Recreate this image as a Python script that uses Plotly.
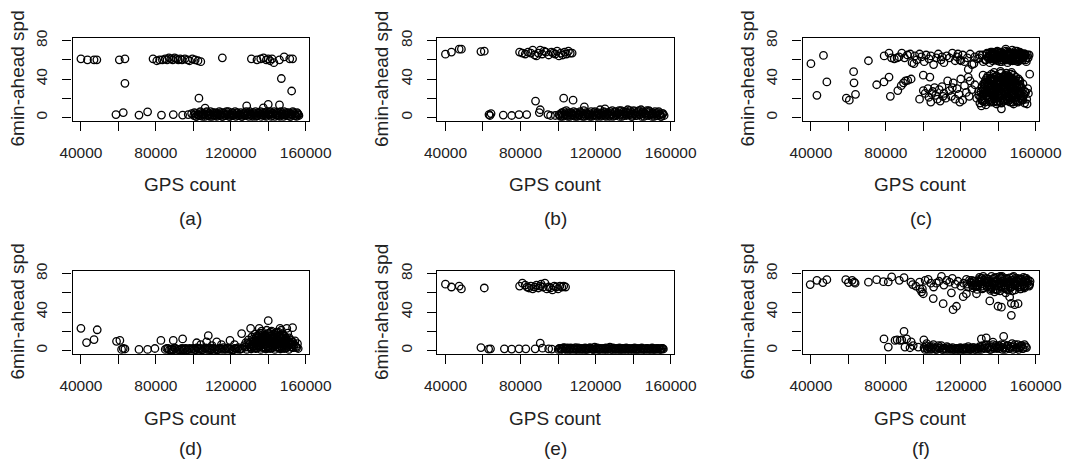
import plotly.graph_objects as go

# ---------------- data (GPS count in thousands, speed in km/h) ----------------
# panel (a)
a_top_x = [40, 43.5, 47, 48.5, 60.5, 63.5, 78.5, 80.5, 82, 83.5, 85, 86, 87, 88, 89, 90, 91, 92, 93, 94,
           95.5, 97, 98, 99.5, 101, 102.5, 104, 115.5, 131, 134, 136, 137.5, 139, 140, 141, 142, 143, 146,
           148.5, 151.5, 153]
a_top_y = [61, 60, 60, 60, 60, 61, 61, 59, 60, 60, 61, 60, 62, 61, 60, 62, 61, 60, 61, 60,
           61, 60, 59, 61, 60, 59, 58, 62, 61, 60, 61, 62, 60, 61, 59, 61, 57, 60,
           63, 61, 61]
a_mid_x = [63.5, 103, 147, 152.5, 106.3, 128.5, 140, 146, 137.4, 58.7, 62.6, 71, 75.6, 83, 89.3, 94.3, 97.3, 99.1]
a_mid_y = [35.5, 20, 40.5, 27.5, 9.6, 12, 13.5, 13, 10, 3, 5, 2.4, 5.8, 2.4, 3, 2.4, 3, 4]
a_band_x = [100.2, 101.1, 101.7, 102.6, 103.4, 104.1, 104.9, 105.6, 106.6, 107.2, 108.1, 108.8, 109.5, 110.4,
            111.1, 111.9, 112.5, 113.4, 114.2, 114.8, 115.7, 116.4, 117.2, 118.1, 118.7, 119.6, 120.3, 121.2,
            121.8, 122.7, 123.5, 124.1, 125.0, 125.8, 126.5, 127.3, 128.2, 128.9, 129.6, 130.5, 131.2, 132.0,
            132.8, 133.5, 134.3, 135.1, 135.9, 136.6, 137.4, 138.2, 138.9, 139.7, 140.5, 141.2, 142.0, 142.7,
            143.6, 144.3, 145.0, 145.9, 146.6, 147.3, 148.2, 148.9, 149.6, 150.5, 151.2, 152.0, 152.8, 153.5,
            154.3, 155.1, 155.8, 156.4]
a_band_y = [2, 4, 1, 3, 5, 2, 1, 4, 3, 6, 2, 1, 3, 5, 2, 4, 1, 3, 2, 5, 1, 4, 2, 3, 6, 1, 2, 4, 3, 1, 5, 2,
            3, 1, 4, 2, 6, 3, 1, 4, 2, 5, 3, 1, 2, 4, 6, 3, 2, 5, 1, 4, 3, 6, 2, 4, 1, 5, 3, 2, 6, 4, 1, 3,
            5, 2, 4, 1, 3, 5, 2, 1, 4, 2]
a_band2_x = [100.6, 101.4, 102.3, 103.0, 103.8, 104.6, 105.3, 106.2, 106.9, 107.7, 108.5, 109.2, 110.1, 110.8,
             111.6, 112.3, 113.1, 113.9, 114.6, 115.4, 116.1, 116.9, 117.7, 118.4, 119.2, 120.0, 120.7, 121.5,
             122.3, 123.1, 123.8, 124.6, 125.4, 126.1, 126.9, 127.7, 128.5, 129.3, 130.1, 130.9, 131.6, 132.4,
             133.2, 133.9, 134.7, 135.5, 136.3, 137.0, 137.8, 138.6, 139.3, 140.1, 140.9, 141.6, 142.4, 143.2,
             143.9, 144.7, 145.5, 146.2, 147.0, 147.7, 148.5, 149.3, 150.1, 150.8, 151.6, 152.4, 153.1, 153.9,
             154.7, 155.4, 156.1]
a_band2_y = [5, 1, 3, 2, 6, 4, 3, 1, 5, 2, 4, 6, 1, 3, 5, 2, 4, 6, 3, 1, 5, 2, 6, 4, 1, 3, 5, 2, 6, 4, 2, 3,
             5, 1, 3, 5, 2, 4, 6, 3, 1, 4, 6, 2, 5, 3, 1, 5, 4, 2, 6, 3, 5, 1, 4, 6, 3, 2, 5, 1, 4, 3, 6, 2,
             4, 5, 1, 3, 6, 4, 2, 5, 3]

# panel (b)
b_top_x = [40, 43.2, 47.3, 48.5, 58.9, 60.7, 79.5, 81, 82.5, 84, 85.5, 86.5, 87.5, 88.5, 89.5, 90.5, 91.5,
           92.5, 93.5, 95, 96.5, 97.5, 98.5, 99.5, 100.5, 101.5, 102.5, 103.5, 104.5, 105.5, 106.5, 107.5]
b_top_y = [65.8, 68, 71, 71, 68.5, 69, 68, 67, 66, 68, 67, 70, 65, 64, 67, 70, 66,
           69, 68, 65, 68, 67, 66, 69, 64, 67, 65, 68, 66, 69, 67, 67]
b_mid_x = [88, 103, 108, 90.5, 90, 114, 125, 63.2, 63.7, 64.3, 70.8, 75.3, 79.2, 83.3, 94.6, 96, 98.5]
b_mid_y = [17, 20, 18, 8, 5, 11, 9, 3, 2, 4, 2.4, 2, 3, 3, 3, 2, 2]
b_band_x = [100.5, 101.3, 102.0, 102.9, 103.6, 104.4, 105.2, 105.9, 106.8, 107.5, 108.3, 109.1, 109.8, 110.7,
            111.4, 112.2, 113.0, 113.7, 114.6, 115.3, 116.1, 116.9, 117.6, 118.5, 119.2, 120.0, 120.8, 121.5,
            122.4, 123.1, 123.9, 124.7, 125.4, 126.3, 127.0, 127.8, 128.6, 129.3, 130.2, 130.9, 131.7, 132.5,
            133.2, 134.1, 134.8, 135.6, 136.4, 137.1, 138.0, 138.7, 139.5, 140.3, 141.0, 141.9, 142.6, 143.4,
            144.2, 144.9, 145.8, 146.5, 147.3, 148.1, 148.8, 149.7, 150.4, 151.2, 152.0, 152.7, 153.6, 154.3,
            155.1, 155.9, 156.5]
b_band_y = [3, 1, 5, 2, 4, 7, 1, 3, 5, 2, 6, 1, 4, 2, 3, 5, 1, 7, 2, 4, 3, 1, 6, 2, 5, 3, 1, 4, 8, 2, 3, 5,
            1, 4, 2, 6, 3, 1, 5, 2, 4, 7, 3, 1, 6, 4, 2, 8, 5, 3, 1, 7, 4, 2, 6, 3, 8, 5, 1, 4, 7, 2, 6, 3,
            5, 1, 4, 2, 6, 3, 1, 4, 2]
b_band2_x = [100.9, 101.7, 102.5, 103.3, 104.0, 104.8, 105.6, 106.4, 107.1, 107.9, 108.7, 109.5, 110.3, 111.0,
             111.8, 112.6, 113.4, 114.1, 114.9, 115.7, 116.5, 117.2, 118.0, 118.8, 119.6, 120.4, 121.1, 121.9,
             122.7, 123.5, 124.3, 125.0, 125.8, 126.6, 127.4, 128.2, 128.9, 129.7, 130.5, 131.3, 132.1, 132.8,
             133.6, 134.4, 135.2, 136.0, 136.7, 137.5, 138.3, 139.1, 139.9, 140.6, 141.4, 142.2, 143.0, 143.8,
             144.5, 145.3, 146.1, 146.9, 147.6, 148.4, 149.2, 150.0, 150.8, 151.6, 152.3, 153.1, 153.9, 154.7,
             155.5]
b_band2_y = [2, 4, 1, 6, 3, 2, 5, 1, 4, 3, 2, 5, 1, 3, 6, 2, 4, 1, 5, 3, 2, 4, 1, 3, 6, 2, 5, 3, 1, 4, 6, 2,
             3, 5, 1, 4, 7, 2, 6, 3, 5, 1, 7, 4, 2, 6, 5, 3, 7, 1, 4, 6, 2, 5, 7, 3, 1, 6, 4, 2, 5, 7, 3, 1,
             4, 6, 2, 5, 3, 1, 4]

# panel (c)
c_sparse_x = [40, 43.2, 46.7, 48.5, 58.9, 60.5, 62.8, 63, 63.8, 70.7, 75.1, 79, 79.1, 81.7, 81.7, 82.4, 86.4,
              88.2, 89.4, 90.5, 91.7, 93.5, 100, 103.5, 131, 141.7, 155.4, 156.8, 124, 131.9]
c_sparse_y = [56, 23, 64.5, 37, 20, 18, 47.6, 36, 24, 59, 34, 37, 64, 42, 67, 22, 28,
              33, 36, 38, 38.6, 40, 44, 42, 12, 9, 14, 45, 50, 44]
c_band_x = [83, 84.5, 86, 87, 88.5, 90, 91.5, 93, 94, 95.5, 96.5, 98, 99, 100.5, 101.5, 103, 104, 105.5, 107,
            108, 109.5, 111, 112.5, 114, 115.5, 117, 118, 119.5, 121, 122, 123.5, 125, 126, 127.5, 129, 130,
            95, 110, 120, 127, 118.5]
c_band_y = [62, 61, 62, 63, 67, 62, 65, 66, 57, 64, 60, 66, 63, 58, 65, 61, 64, 55, 62,
            66, 60, 57, 64, 62, 67, 59, 63, 60, 65, 58, 62, 66, 55, 63, 61, 65,
            56, 63, 59, 56, 66]
c_scat_x = [98, 100, 101, 102.5, 103, 104, 105, 106, 106.5, 107.5, 108.5, 109, 110, 111, 112, 113, 114, 115,
            116, 117, 118, 119, 120, 121, 122, 123, 124.5, 125, 126, 127.5, 128.5, 129.5, 104.5, 110.5, 115.5,
            119.5, 124]
c_scat_y = [19, 28, 25, 30, 21, 16, 27, 31, 23, 19, 29, 17, 32, 25, 20, 38, 28, 22,
            36, 19, 30, 24, 40, 18, 33, 26, 22, 38, 29, 34, 20, 27, 25, 22, 31,
            16, 42]
c_hi_x = [130, 131.5, 133, 134, 135, 136, 137, 137.5, 138, 139, 139.5, 140, 141, 141.5, 142, 143, 143.5, 144,
          145, 145.5, 146, 147, 147.5, 148, 149, 149.5, 150, 151, 151.5, 152, 153, 154, 155, 156, 132, 134.5,
          136.5, 138.5, 140.5, 142.5, 144.5, 146.5, 148.5, 150.5, 152.5, 154.5, 135.5, 139, 143, 147, 151, 137,
          141, 145, 149, 153, 156.5, 133.5, 150, 144]
c_hi_y = [62, 65, 60, 66, 63, 68, 59, 64, 67, 61, 69, 65, 62, 68, 58, 66, 63, 69,
          60, 65, 67, 62, 70, 64, 59, 66, 63, 61, 68, 64, 60, 66, 58, 62, 58, 62,
          65, 60, 63, 66, 61, 64, 67, 58, 62, 65, 57, 61, 64, 60, 59, 67,
          58, 57, 62, 64, 65, 60, 69, 71]
c_hi2_x = [134.8, 136.2, 137.8, 138.9, 140.3, 141.8, 142.7, 144.2, 145.8, 146.8, 148.2, 149.7, 151.2, 152.8,
           154.2, 135.3, 137.2, 139.6, 141.1, 143.7, 145.2, 147.7, 149.1, 151.8, 153.6, 155.6, 136.8, 140.8,
           144.8, 148.8, 152.2, 138.2, 142.2, 146.2, 150.2, 154.6]
c_hi2_y = [64, 61, 66, 63, 67, 60, 65, 62, 68, 61, 65, 63, 66, 62, 64, 67, 62, 59, 64, 60, 66, 59, 61, 66,
           63, 65, 68, 67, 68, 66, 67, 62, 66, 60, 65, 60]
c_hi3_x = [133.2, 134.9, 136.6, 138.3, 140.0, 141.6, 143.3, 145.0, 146.6, 148.3, 150.0, 151.6, 153.3, 155.0,
           134.0, 135.8, 137.4, 139.1, 140.8, 142.4, 144.1, 145.8, 147.4, 149.1, 150.8, 152.4, 154.1]
c_hi3_y = [60, 63, 66, 61, 64, 67, 62, 65, 59, 63, 66, 61, 64, 62,
           67, 64, 61, 68, 62, 65, 60, 67, 63, 69, 60, 63, 66]
c_lo_x = [130.2, 133.4, 135.8, 139.1, 141.7, 145.3, 148.2, 150.6, 154.1,
          131.1, 134.3, 136.6, 140.2, 143.4, 145.8, 149.3, 152.1, 155.2,
          129.6, 132.7, 135.2, 138.4, 141.3, 144.9, 147.3, 150.8, 153.4, 156.1,
          130.8, 133.1, 136.9, 139.6, 142.2, 145.6, 148.7, 151.2, 154.6,
          131.3, 134.6, 137.2, 139.9, 143.1, 146.3, 148.9, 152.4, 155.7,
          132.1, 134.8, 138.3, 141.1, 143.8, 147.2, 150.1, 153.2,
          133.2, 135.9, 139.3, 142.4, 145.1, 148.1, 150.9,
          134.4, 137.7, 140.6, 143.3, 146.8, 149.4,
          137.8, 141.2, 144.3, 147.1,
          131.7, 134.9, 137.4, 140.8, 143.6, 146.4, 149.7, 152.8,
          132.4, 135.4, 138.1, 141.6, 144.2, 147.6, 150.3, 153.7,
          132.9, 136.2, 138.8, 142.1, 144.6, 147.9, 151.1,
          133.8, 136.3, 139.4, 142.8, 145.4, 148.4, 151.6]
c_lo_y = [15, 13, 16, 14, 15, 17, 14, 16, 15,
          19, 21, 18, 20, 19, 21, 18, 20, 19,
          23, 24, 22, 23, 25, 22, 24, 23, 22, 25,
          27, 28, 26, 27, 29, 26, 28, 27, 26,
          31, 32, 30, 31, 33, 30, 32, 31, 30,
          35, 36, 34, 35, 37, 34, 36, 35,
          39, 40, 38, 39, 41, 38, 40,
          43, 44, 42, 43, 45, 42,
          47, 48, 46, 47,
          17, 18, 16, 17, 18, 16, 17, 18,
          25, 26, 24, 25, 27, 25, 26, 24,
          33, 34, 32, 33, 34, 32, 33,
          37, 38, 36, 37, 39, 37, 38]
c_lo2_x = [130.5, 132.2, 134.1, 135.6, 137.5, 139.2, 140.9, 142.6, 144.4, 146.1, 147.8, 149.6, 151.4, 153.1,
           131.9, 133.7, 135.9, 137.6, 139.8, 141.5, 143.2, 145.2, 146.9, 148.6, 150.4, 152.3, 154.3,
           132.6, 134.5, 136.8, 138.6, 140.3, 142.3, 144.1, 145.9, 147.4, 149.9, 151.7,
           133.9, 135.7, 137.9, 139.9, 141.9, 143.9, 145.7, 147.7, 149.2,
           136.4, 138.9, 141.4, 143.6, 146.2, 148.2]
c_lo2_y = [21, 17, 23, 19, 25, 17, 22, 18, 24, 20, 16, 22, 25, 18,
           29, 26, 31, 28, 24, 30, 27, 29, 32, 25, 28, 23, 27,
           35, 33, 38, 31, 36, 34, 37, 33, 35, 31, 34,
           41, 39, 42, 37, 40, 42, 38, 40, 36,
           45, 43, 46, 44, 42, 44]
c_lo3_x = [131.4, 133.0, 134.7, 136.3, 138.0, 139.5, 141.1, 142.9, 144.6, 146.0, 147.5, 149.0, 150.5, 152.2,
           131.8, 133.5, 135.1, 136.8, 138.5, 140.0, 141.7, 143.3, 145.0, 146.7, 148.3, 149.9, 151.5, 153.3,
           132.3, 134.0, 135.5, 137.1, 138.8, 140.5, 142.0, 143.7, 145.3, 147.0, 148.5, 150.2, 152.0,
           133.0, 134.6, 136.1, 137.8, 139.4, 141.0, 142.6, 144.3, 145.9, 147.5, 149.1, 150.8,
           134.2, 136.0, 137.6, 139.2, 140.8, 142.4, 144.0, 145.6, 147.2, 148.8]
c_lo3_y = [18, 16, 20, 17, 19, 16, 20, 17, 19, 18, 16, 20, 17, 19,
           24, 22, 26, 23, 25, 22, 26, 24, 22, 25, 23, 26, 24, 22,
           30, 28, 32, 29, 31, 28, 32, 30, 28, 31, 29, 32, 30,
           36, 34, 38, 35, 37, 34, 38, 36, 34, 37, 35, 38, 36,
           41, 40, 43, 39, 42, 40, 43, 41, 39, 42]

# panel (d)
d_sparse_x = [40, 43, 47, 48.7, 59, 60.8, 61.7, 62.6, 63.5, 71, 75.6, 79.5, 82.7, 89.3, 94.3, 108, 101.8, 107.1,
              112.5, 119.6, 125.8, 130.6, 135.2, 140, 146.3, 149.9, 153, 104, 110, 115, 122]
d_sparse_y = [23, 8.2, 11.3, 21.5, 9.5, 10.4, 1, 2, 1.5, 1, 1, 2, 10.4, 10.4, 12, 15.4, 8, 9,
              9, 10.4, 17.5, 23, 23, 31, 23, 23, 23.7, 6, 5, 6, 6]
d_low_x = [85, 86.5, 88, 89.2, 90.5, 92, 93.3, 94.6, 96, 97.4, 98.7, 100, 101.2, 102.6, 104, 105.3, 106.6,
           108, 109.3, 110.6, 112, 113.4, 114.7, 116, 117.3, 118.6, 120, 121.4, 122.7, 124, 125.3]
d_low_y = [1, 2, 1, 0.5, 2, 1, 1.5, 0.5, 2, 1, 1, 2, 0.5, 1.5, 2, 1, 2.5, 1, 0.5, 2, 1.5, 1, 2, 3, 1, 2,
           1.5, 0.5, 2, 3, 1.5]
d_low2_x = [85.8, 87.2, 88.6, 89.9, 91.3, 92.7, 94, 95.3, 96.7, 98, 99.4, 100.6, 101.9, 103.3, 104.6, 106,
            107.3, 108.7, 110, 111.3, 112.7, 114, 115.4, 116.7, 118, 119.3, 120.7, 122, 123.4, 124.7]
d_low2_y = [2, 0.5, 1.5, 2.5, 1, 0.5, 2, 1.5, 0.5, 2, 1.5, 1, 2.5, 1, 0.5, 2, 1, 2.5, 1.5, 1, 0.5, 2, 1,
            1.5, 2.5, 1, 0.5, 2, 1.5, 1]
d_blob_x = [126, 128.5, 131, 133.5, 136, 138.5, 141, 143.5, 146, 148.5, 151, 153.5, 156,
            127.2, 129.8, 132.2, 134.7, 137.3, 139.8, 142.2, 144.7, 147.3, 149.8, 152.2, 154.8,
            128, 130.6, 133.1, 135.5, 138.1, 140.6, 143.1, 145.6, 148.2, 150.6, 153.1, 155.6,
            129.4, 132.1, 134.4, 137, 139.4, 142, 144.3, 146.9, 149.3, 151.9, 154.3,
            131.3, 133.8, 136.2, 138.7, 141.3, 143.8, 146.2, 148.7, 151.2,
            133, 135.6, 138, 140.4, 142.9, 145.4, 147.9, 150.4,
            136.5, 139.2, 141.8, 144.4, 147]
d_blob_y = [2, 1, 3, 2, 1, 3, 2, 1, 3, 2, 1, 3, 2,
            5, 6, 4, 5, 6, 4, 5, 6, 4, 5, 6, 4,
            8, 9, 7, 8, 9, 7, 8, 9, 7, 8, 9, 7,
            11, 12, 10, 11, 12, 10, 11, 12, 10, 11, 10,
            14, 15, 13, 14, 15, 13, 14, 15, 13,
            17, 18, 16, 18, 17, 19, 16, 18,
            20, 21, 20, 19, 21]
d_blob2_x = [127.8, 130.2, 132.7, 135.2, 137.7, 140.1, 142.7, 145.1, 147.6, 150.1, 152.7, 155.2,
             129, 131.6, 134, 136.6, 139, 141.6, 144, 146.6, 149, 151.6, 154,
             132.5, 135, 137.6, 140, 142.5, 145, 147.5, 150, 152.6,
             134.5, 137.1, 139.6, 142.1, 144.7, 147.2, 149.6]
d_blob2_y = [3.5, 4, 2.5, 3.5, 4, 2.5, 3.5, 4, 2.5, 3.5, 4, 3,
             7, 6.5, 8, 7, 6.5, 8, 7, 6.5, 8, 7, 6,
             10, 11, 9.5, 10, 11, 9.5, 10, 11, 9,
             13, 14, 12.5, 13, 14, 12.5, 13]
d_blob3_x = [130.9, 132.4, 134.0, 135.7, 137.0, 138.8, 140.3, 141.9, 143.4, 145.0, 146.5, 148.0, 149.5, 151.1,
             152.8, 131.8, 133.3, 134.9, 136.4, 138.0, 139.5, 141.0, 142.6, 144.1, 145.7, 147.3, 148.9, 150.4,
             152.0, 133.6, 135.1, 136.8, 138.4, 139.9, 141.5, 143.0, 144.6, 146.1, 147.7, 149.2,
             135.0, 136.7, 138.2, 139.8, 141.3, 142.9, 144.5, 146.0, 147.6]
d_blob3_y = [1.5, 4.5, 2.5, 5.5, 3, 1.5, 4.5, 2.5, 5.5, 3, 1.5, 4.5, 2.5, 5.5,
             3, 8.5, 6.5, 9.5, 7.5, 10, 8.5, 6.5, 9.5, 7.5, 10, 8.5, 6.5, 9.5,
             7.5, 12.5, 14.5, 11.5, 13.5, 15.5, 12.5, 14.5, 11.5, 13.5, 15.5, 12.5,
             16.5, 18, 15.5, 17.5, 19, 16.5, 18, 15.5, 17.5]

# panel (e)
e_top_x = [40, 43.2, 47.3, 48.5, 60.7, 79.5, 81, 82.5, 83.5, 84.5, 85.5, 86.5, 87.5, 88.5, 89.5, 90.5, 91,
           92, 93, 94, 95, 96, 97, 98, 99, 100, 101, 102, 103, 104]
e_top_y = [69, 66, 67, 64, 65, 67, 70, 68, 66, 65, 67, 64, 66, 68, 65, 67, 69,
           66, 70, 64, 66, 65, 63, 67, 66, 64, 67, 66, 67, 66]
e_low_x = [58.9, 63, 64, 71.4, 75.3, 79.2, 82.8, 87.8, 90.5, 91.7, 95, 96.7]
e_low_y = [3, 1.4, 1.7, 1.7, 1.4, 1.7, 1.7, 1.7, 7.6, 2.3, 1.7, 1.4]
e_band_x = [100.1, 101.2, 102.1, 103.3, 104.2, 105.1, 106.3, 107.2, 108.4, 109.3, 110.2, 111.4, 112.3, 113.5,
            114.4, 115.3, 116.5, 117.4, 118.6, 119.5, 120.4, 121.6, 122.5, 123.7, 124.6, 125.5, 126.7, 127.6,
            128.8, 129.7, 130.6, 131.8, 132.7, 133.9, 134.8, 135.7, 136.9, 137.8, 139.0, 139.9, 140.8, 142.0,
            142.9, 144.1, 145.0, 145.9, 147.1, 148.0, 149.2, 150.1, 151.0, 152.2, 153.1, 154.3, 155.2, 156.1]
e_band_y = [1, 2, 1.5, 3, 1, 2.5, 1.5, 1, 2, 3, 1, 1.5, 2, 1, 2.5, 1, 1.5, 2, 1, 3.5, 1.5, 1, 2, 1.5, 1, 2.5,
            1.5, 3.5, 1, 2, 1.5, 1, 2.5, 1, 2, 1.5, 1, 2, 1.5, 1, 2.5, 1, 1.5, 2, 1, 1.5, 2, 1, 1.5, 2.5, 1, 2,
            1.5, 1, 2, 1.5]
e_band2_x = [100.6, 101.7, 102.7, 103.8, 104.7, 105.7, 106.8, 107.8, 108.9, 109.8, 110.8, 111.9, 112.9, 114.0,
             114.9, 115.9, 117.0, 118.0, 119.1, 120.0, 121.0, 122.1, 123.1, 124.2, 125.1, 126.1, 127.2, 128.2,
             129.3, 130.2, 131.2, 132.3, 133.3, 134.4, 135.3, 136.3, 137.4, 138.4, 139.5, 140.4, 141.4, 142.5,
             143.5, 144.6, 145.5, 146.5, 147.6, 148.6, 149.7, 150.6, 151.6, 152.7, 153.7, 154.8, 155.7]
e_band2_y = [2, 1, 2.5, 1.5, 2, 1, 2.5, 2, 1, 1.5, 2.5, 1, 1.5, 2, 1, 2, 3, 1.5, 1, 2, 2.5, 1, 1.5, 2, 1.5,
             1, 2, 1, 2.5, 1, 2, 1.5, 1, 2, 1, 2.5, 1.5, 1, 2, 1.5, 1, 2, 1, 2.5, 1.5, 1, 2, 1.5, 1, 2, 1,
             1.5, 2, 1, 2]

# panel (f)
f_sparse_x = [39.6, 43.2, 46.4, 48.5, 58.6, 60, 62, 63.1, 63.6, 70.7, 75.1, 78.7, 81.3, 83.1, 87.2, 89.7, 93.4,
              94.3, 98.2, 99.1, 100, 105.3, 110.6, 115, 115.9, 117.7, 121.3, 123, 128.4, 135.5, 139.9, 141.7,
              146.1, 147, 148.8, 150.6, 147]
f_sparse_y = [68.5, 73, 70.6, 73.7, 73.7, 70.6, 73, 71, 70, 71, 73.7, 71.6, 71.3, 76.5, 73, 75.8, 71,
              68.5, 64, 61, 59, 54, 48.7, 60, 42.4, 46, 56, 59, 59, 51.5, 46, 45,
              55.6, 49, 47.6, 48.7, 36.5]
f_upper_x = [96, 98, 99.5, 101, 102.6, 104, 105.5, 107, 108.4, 109.7, 111, 112.5, 114, 115.5, 117, 118.5, 120,
             121.5, 123]
f_upper_y = [67, 71, 64, 73, 74, 70, 66, 70, 72, 77, 68, 73, 71, 75, 69, 72, 67, 70, 74]
f_blob_x = [124, 126.5, 129, 131.5, 134, 136.5, 139, 141.5, 144, 146.5, 149, 151.5, 154, 156.5,
            123.2, 125.6, 128.1, 130.7, 133.2, 135.6, 138.1, 140.6, 143.2, 145.6, 148.1, 150.7, 153.2, 155.6,
            124.6, 127.2, 129.8, 132.3, 134.8, 137.3, 139.8, 142.3, 144.8, 147.3, 149.8, 152.3, 154.8, 157,
            130, 133.5, 136.4, 139.1, 142, 144.6, 147.7, 150.3, 153.5,
            138, 141, 144, 147.5]
f_blob_y = [66, 65, 67, 64, 66, 65, 63, 66, 64, 65, 63, 66, 65, 67,
            69, 70, 68, 69, 70, 68, 69, 70, 68, 69, 70, 68, 69, 70,
            73, 72, 74, 73, 72, 74, 73, 72, 74, 73, 72, 74, 73, 72,
            76, 75, 77, 76, 77, 75, 76, 75, 76,
            61, 62, 60, 62]
f_blob2_x = [125.3, 127.8, 130.4, 132.9, 135.3, 137.9, 140.3, 142.9, 145.3, 147.9, 150.3, 152.9, 155.2,
             126.3, 128.9, 131.4, 134, 136.4, 139, 141.4, 144, 146.4, 149, 151.4, 154, 156.2,
             131.3, 134.7, 137.9, 140.9, 143.5, 146.1, 149.2, 152, 155]
f_blob2_y = [71, 70.5, 71.5, 71, 70.5, 71.5, 71, 70.5, 71.5, 71, 70.5, 71.5, 71,
             67.5, 66.5, 67, 67.5, 66.5, 67, 67.5, 66.5, 67, 67.5, 66.5, 67, 68,
             75, 74.5, 75.5, 75, 74.5, 75.5, 75, 74.5, 75]
f_blob3_x = [126.9, 129.5, 132.1, 134.4, 137.0, 139.6, 142.1, 144.4, 147.0, 149.6, 152.1, 154.5, 156.8,
             125.9, 128.4, 131.0, 133.7, 136.0, 138.6, 141.0, 143.7, 146.0, 148.6, 151.0, 153.7, 156.0,
             128.7, 132.0, 135.9, 138.5, 141.7, 145.0, 148.2, 151.6, 154.4]
f_blob3_y = [68, 72, 65, 74, 69, 63, 75, 70, 66, 73, 64, 71, 69,
             73, 67, 75, 70, 64, 72, 77, 65, 72, 68, 74, 66, 73,
             63.5, 77, 62.5, 64, 76, 63, 77, 64, 75]
f_low_x = [79, 81.3, 84.9, 87.6, 89.7, 91.1, 90.2, 92.9, 94.6, 97.3, 100.3, 101.8, 131, 133.6, 142.9, 137.2,
           152.4, 86, 88.5, 93.5]
f_low_y = [12, 3.5, 10.4, 10.4, 19.8, 12, 3.5, 2.8, 5, 3.5, 11, 7, 12, 13, 14.6, 8.7, 5, 11, 11, 9]
f_band_x = [100.4, 101.5, 102.4, 103.6, 104.5, 105.4, 106.6, 107.5, 108.7, 109.6, 110.5, 111.7, 112.6, 113.8,
            114.7, 115.6, 116.8, 117.7, 118.9, 119.8, 120.7, 121.9, 122.8, 124.0, 124.9, 125.8, 127.0, 127.9,
            129.1, 130.0, 130.9, 132.1, 133.0, 134.2, 135.1, 136.0, 137.2, 138.1, 139.3, 140.2, 141.1, 142.3,
            143.2, 144.4, 145.3, 146.2, 147.4, 148.3, 149.5, 150.4, 151.3, 152.5, 153.4, 154.6]
f_band_y = [3, 5, 1, 4, 2, 6, 1, 3, 2, 5, 1, 2, 4, 1, 2, 3, 1, 2, 1, 3, 2, 1, 2, 4, 1, 2, 3, 1, 2, 4, 1, 3,
            5, 2, 4, 1, 6, 3, 2, 5, 4, 1, 6, 3, 5, 2, 7, 4, 2, 6, 3, 5, 2, 4]
f_band2_x = [100.9, 102.0, 103.0, 104.1, 105.0, 106.0, 107.1, 108.1, 109.2, 110.1, 111.1, 112.2, 113.2, 114.3,
             115.2, 116.2, 117.3, 118.3, 119.4, 120.3, 121.3, 122.4, 123.4, 124.5, 125.4, 126.4, 127.5, 128.5,
             129.6, 130.5, 131.5, 132.6, 133.6, 134.7, 135.6, 136.6, 137.7, 138.7, 139.8, 140.7, 141.7, 142.8,
             143.8, 144.9, 145.8, 146.8, 147.9, 148.9, 150.0, 150.9, 151.9, 153.0, 154.0, 155.1]
f_band2_y = [1, 2, 3, 1, 4, 2, 1, 5, 3, 1, 2, 1, 3, 2, 1, 1, 2, 1, 2, 1, 1, 3, 1, 2, 1, 3, 1, 2, 1, 3, 5, 2,
             6, 3, 1, 4, 2, 5, 3, 2, 6, 3, 1, 5, 2, 4, 1, 6, 3, 1, 4, 2, 6, 3]

panel_labels = ["(a)", "(b)", "(c)", "(d)", "(e)", "(f)"]
panel_x = [a_top_x + a_mid_x + a_band_x + a_band2_x,
           b_top_x + b_mid_x + b_band_x + b_band2_x,
           c_sparse_x + c_band_x + c_scat_x + c_hi_x + c_hi2_x + c_hi3_x + c_lo_x + c_lo2_x + c_lo3_x,
           d_sparse_x + d_low_x + d_low2_x + d_blob_x + d_blob2_x + d_blob3_x,
           e_top_x + e_low_x + e_band_x + e_band2_x,
           f_sparse_x + f_upper_x + f_blob_x + f_blob2_x + f_blob3_x + f_low_x + f_band_x + f_band2_x]
panel_y = [a_top_y + a_mid_y + a_band_y + a_band2_y,
           b_top_y + b_mid_y + b_band_y + b_band2_y,
           c_sparse_y + c_band_y + c_scat_y + c_hi_y + c_hi2_y + c_hi3_y + c_lo_y + c_lo2_y + c_lo3_y,
           d_sparse_y + d_low_y + d_low2_y + d_blob_y + d_blob2_y + d_blob3_y,
           e_top_y + e_low_y + e_band_y + e_band2_y,
           f_sparse_y + f_upper_y + f_blob_y + f_blob2_y + f_blob3_y + f_low_y + f_band_y + f_band2_y]

x_ticks = [40000, 60000, 80000, 100000, 120000, 140000, 160000]
x_ticktext = ["40000", "", "80000", "", "120000", "", "160000"]
y_ticks = [0, 20, 40, 60, 80]
y_ticktext = ["0", "", "40", "", "80"]
x_title = "GPS count"
y_title = "6min-ahead spd"

# ---------------- layout geometry (pixels) ----------------
W, H = 1066, 463
col_lr = [(72.5, 308.5), (437, 673.5), (802.5, 1038.5)]
row_tb = [(37.5, 120.5), (270.5, 353.5)]
title_y = [184, 418]
caption_y = [218, 448]

FONT = "Liberation Sans, Arial, Helvetica, sans-serif"
fig = go.Figure()
layout = dict(width=W, height=H, margin=dict(l=0, r=0, t=0, b=0, autoexpand=False), showlegend=False,
              paper_bgcolor="white", plot_bgcolor="white", annotations=[])

for i in range(6):
    r, c = divmod(i, 3)
    L, R = col_lr[c]
    T, B = row_tb[r]
    n = i + 1
    xa = "x" if n == 1 else f"x{n}"
    ya = "y" if n == 1 else f"y{n}"
    fig.add_trace(go.Scatter(
        x=[v * 1000 for v in panel_x[i]], y=panel_y[i], mode="markers",
        marker=dict(symbol="circle-open", size=7.5, color="black", line=dict(width=1.3, color="black")),
        xaxis=xa, yaxis=ya, hoverinfo="skip", cliponaxis=False))
    common = dict(showline=True, mirror=True, linecolor="black", linewidth=1.2, showgrid=False,
                  zeroline=False, ticks="outside", ticklen=9, tickwidth=1.2, tickcolor="black",
                  automargin=False, tickfont=dict(family=FONT, size=15.5, color="#222"))
    layout["xaxis" if n == 1 else f"xaxis{n}"] = dict(
        common, domain=[L / W, R / W], anchor=ya, range=[35500, 161500],
        tickmode="array", tickvals=x_ticks, ticktext=x_ticktext, ticklabelstandoff=9)
    layout["yaxis" if n == 1 else f"yaxis{n}"] = dict(
        common, domain=[1 - B / H, 1 - T / H], anchor=xa, range=[-3.2, 83.2],
        tickmode="array", tickvals=y_ticks, ticktext=y_ticktext, tickangle=-90, ticklabelstandoff=9)
    cx = (L + R) / 2 / W
    layout["annotations"] += [
        dict(text=x_title, x=cx, y=1 - title_y[r] / H, xref="paper", yref="paper", showarrow=False,
             xanchor="center", yanchor="middle", font=dict(family=FONT, size=19, color="#222")),
        dict(text=panel_labels[i], x=cx, y=1 - caption_y[r] / H, xref="paper", yref="paper",
             showarrow=False, xanchor="center", yanchor="middle",
             font=dict(family=FONT, size=19, color="#222")),
        dict(text=y_title, x=(L - 56) / W, y=1 - (T + B) / 2 / H, xref="paper", yref="paper",
             showarrow=False, textangle=-90, xanchor="center", yanchor="middle",
             font=dict(family=FONT, size=19, color="#222")),
    ]

fig.update_layout(**layout)
fig.write_html("out.html")
